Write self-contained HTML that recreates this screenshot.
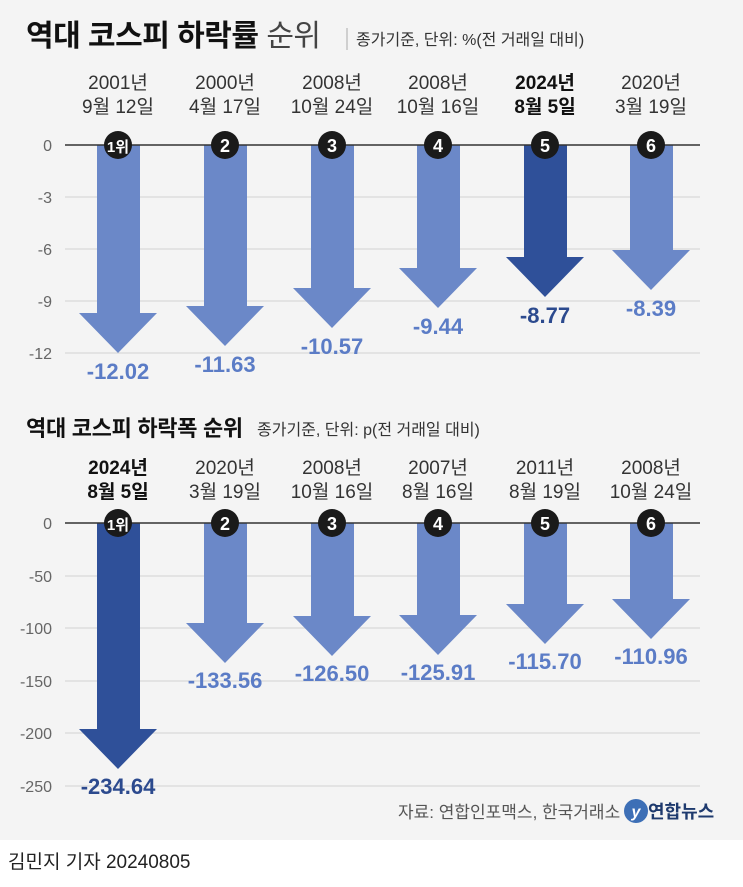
<!DOCTYPE html>
<html><head><meta charset="utf-8"><style>
body{margin:0;background:#fff;}
svg{display:block;font-family:"Liberation Sans","Noto Sans CJK KR",sans-serif;}
</style></head><body>
<svg width="743" height="887" viewBox="0 0 743 887">
<rect x="0" y="0" width="743" height="840" fill="#f4f4f4"/>
<text x="26" y="46" font-size="30" font-weight="bold" fill="#111" letter-spacing="-0.5">역대 코스피 하락률 <tspan font-weight="normal" fill="#444">순위</tspan></text>
<line x1="347" y1="28" x2="347" y2="50" stroke="#aaa" stroke-width="1"/>
<text x="356" y="45" font-size="16" fill="#333">종가기준, 단위: %(전 거래일 대비)</text>
<g font-size="19" fill="#333" text-anchor="middle">
<text x="118" y="89">2001년</text><text x="118" y="113">9월 12일</text>
<text x="225" y="89">2000년</text><text x="225" y="113">4월 17일</text>
<text x="332" y="89">2008년</text><text x="332" y="113">10월 24일</text>
<text x="438" y="89">2008년</text><text x="438" y="113">10월 16일</text>
<text x="545" y="89" font-weight="bold" fill="#111">2024년</text><text x="545" y="113" font-weight="bold" fill="#111">8월 5일</text>
<text x="651" y="89">2020년</text><text x="651" y="113">3월 19일</text>
</g>
<g font-size="16" fill="#666" text-anchor="end">
<text x="52" y="151">0</text><text x="52" y="203">-3</text><text x="52" y="255">-6</text><text x="52" y="307">-9</text><text x="52" y="359">-12</text>
</g>
<g stroke="#ddd" stroke-width="1.5">
<line x1="65" y1="197" x2="700" y2="197"/><line x1="65" y1="249" x2="700" y2="249"/><line x1="65" y1="301" x2="700" y2="301"/><line x1="65" y1="353" x2="700" y2="353"/>
</g>
<g>
<polygon points="97,145 140,145 140,313 157,313 118,353 79,313 97,313" fill="#6b88c8"/>
<polygon points="204,145 247,145 247,306 264,306 225,346 186,306 204,306" fill="#6b88c8"/>
<polygon points="311,145 354,145 354,288 371,288 332,328 293,288 311,288" fill="#6b88c8"/>
<polygon points="417,145 460,145 460,268 477,268 438,308 399,268 417,268" fill="#6b88c8"/>
<polygon points="524,145 567,145 567,257 584,257 545,297 506,257 524,257" fill="#2f5099"/>
<polygon points="630,145 673,145 673,250 690,250 651,290 612,250 630,250" fill="#6b88c8"/>
</g>
<line x1="65" y1="145" x2="700" y2="145" stroke="#333" stroke-width="1.5"/>
<g font-size="22" font-weight="bold" fill="#5b7cc6" text-anchor="middle">
<text x="118" y="379">-12.02</text><text x="225" y="372">-11.63</text><text x="332" y="354">-10.57</text><text x="438" y="334">-9.44</text><text x="545" y="323" fill="#2c4a8e">-8.77</text><text x="651" y="316">-8.39</text>
</g>
<g fill="#1a1a1a"><circle cx="118" cy="145" r="14"/><circle cx="225" cy="145" r="14"/><circle cx="332" cy="145" r="14"/><circle cx="438" cy="145" r="14"/><circle cx="545" cy="145" r="14"/><circle cx="651" cy="145" r="14"/></g>
<g fill="#fff" font-size="18" font-weight="bold" text-anchor="middle">
<text x="118" y="152" font-size="15">1위</text><text x="225" y="152">2</text><text x="332" y="152">3</text><text x="438" y="152">4</text><text x="545" y="152">5</text><text x="651" y="152">6</text>
</g>

<text x="26" y="436" font-size="22" font-weight="bold" fill="#111" letter-spacing="-0.3">역대 코스피 하락폭 순위</text>
<text x="257" y="435" font-size="16" fill="#333">종가기준, 단위: p(전 거래일 대비)</text>
<g font-size="19" fill="#333" text-anchor="middle">
<text x="118" y="474" font-weight="bold" fill="#111">2024년</text><text x="118" y="498" font-weight="bold" fill="#111">8월 5일</text>
<text x="225" y="474">2020년</text><text x="225" y="498">3월 19일</text>
<text x="332" y="474">2008년</text><text x="332" y="498">10월 16일</text>
<text x="438" y="474">2007년</text><text x="438" y="498">8월 16일</text>
<text x="545" y="474">2011년</text><text x="545" y="498">8월 19일</text>
<text x="651" y="474">2008년</text><text x="651" y="498">10월 24일</text>
</g>
<g font-size="16" fill="#666" text-anchor="end">
<text x="52" y="529">0</text><text x="52" y="582">-50</text><text x="52" y="634">-100</text><text x="52" y="687">-150</text><text x="52" y="739">-200</text><text x="52" y="792">-250</text>
</g>
<g stroke="#ddd" stroke-width="1.5">
<line x1="65" y1="576" x2="700" y2="576"/><line x1="65" y1="628" x2="700" y2="628"/><line x1="65" y1="681" x2="700" y2="681"/><line x1="65" y1="733" x2="700" y2="733"/><line x1="65" y1="786" x2="700" y2="786"/>
</g>
<polygon points="97,523 140,523 140,729 157,729 118,769 79,729 97,729" fill="#2f5099"/>
<polygon points="204,523 247,523 247,623 264,623 225,663 186,623 204,623" fill="#6b88c8"/>
<polygon points="311,523 354,523 354,616 371,616 332,656 293,616 311,616" fill="#6b88c8"/>
<polygon points="417,523 460,523 460,615 477,615 438,655 399,615 417,615" fill="#6b88c8"/>
<polygon points="524,523 567,523 567,604 584,604 545,644 506,604 524,604" fill="#6b88c8"/>
<polygon points="630,523 673,523 673,599 690,599 651,639 612,599 630,599" fill="#6b88c8"/>
<line x1="65" y1="523" x2="700" y2="523" stroke="#333" stroke-width="1.5"/>
<g font-size="22" font-weight="bold" fill="#5b7cc6" text-anchor="middle">
<text x="118" y="794" fill="#2c4a8e">-234.64</text><text x="225" y="688">-133.56</text><text x="332" y="681">-126.50</text><text x="438" y="680">-125.91</text><text x="545" y="669">-115.70</text><text x="651" y="664">-110.96</text>
</g>
<g fill="#1a1a1a"><circle cx="118" cy="523" r="14"/><circle cx="225" cy="523" r="14"/><circle cx="332" cy="523" r="14"/><circle cx="438" cy="523" r="14"/><circle cx="545" cy="523" r="14"/><circle cx="651" cy="523" r="14"/></g>
<g fill="#fff" font-size="18" font-weight="bold" text-anchor="middle">
<text x="118" y="530" font-size="15">1위</text><text x="225" y="530">2</text><text x="332" y="530">3</text><text x="438" y="530">4</text><text x="545" y="530">5</text><text x="651" y="530">6</text>
</g>
<text x="398" y="818" font-size="17" fill="#555">자료: 연합인포맥스, 한국거래소</text>
<circle cx="636" cy="811" r="12" fill="#3d6fb6"/>
<text x="636" y="817" font-size="16" font-style="italic" font-weight="bold" fill="#fff" text-anchor="middle">y</text>
<text x="648" y="818" font-size="18" font-weight="bold" fill="#1e3a6e">연합뉴스</text>
<text x="8" y="868" font-size="19" fill="#222">김민지 기자  20240805</text>
</svg>
</body></html>
